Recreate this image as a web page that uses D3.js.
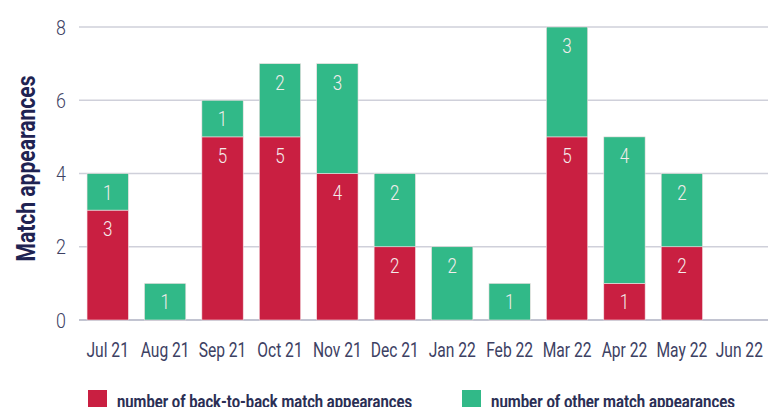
<!DOCTYPE html>
<html>
<head>
<meta charset="utf-8">
<script src="https://cdn.jsdelivr.net/npm/d3@7"></script>
<style>
  html, body { margin: 0; padding: 0; background: #fff; }
  svg { display: block; }
</style>
</head>
<body>
<svg id="chart" width="770" height="407"></svg>
<script>
const months = ["Jul 21","Aug 21","Sep 21","Oct 21","Nov 21","Dec 21","Jan 22","Feb 22","Mar 22","Apr 22","May 22","Jun 22"];
const backToBack = [3,0,5,5,4,2,0,0,5,1,2,0];
const other = [1,1,1,2,3,2,2,1,3,4,2,0];
const yTicks = [0,2,4,6,8];
const seriesNames = ["number of back-to-back match appearances","number of other match appearances"];
const colors = ["#c91f41","#31b988"];

const FONT = "Roboto, 'DejaVu Sans', sans-serif";
const svg = d3.select("#chart");
const margin = {left: 79, right: 2, top: 27, bottom: 87};
const W = 770, H = 407;

// squeeze text horizontally to a narrow face
function condense(sel, k) {
  sel.each(function () {
    const w = this.getComputedTextLength();
    d3.select(this).attr("textLength", w * k).attr("lengthAdjust", "spacingAndGlyphs");
  });
}

const x = d3.scaleBand().domain(months).range([margin.left, W - margin.right]).paddingInner(0.28).paddingOuter(0.14);
const y = d3.scaleLinear().domain([0, 8]).range([H - margin.bottom, margin.top]);

// grid lines
svg.append("g").selectAll("line").data(yTicks).join("line")
  .attr("x1", margin.left).attr("x2", W - margin.right)
  .attr("y1", d => y(d)).attr("y2", d => y(d))
  .attr("stroke", d => d === 0 ? "#aeb0c2" : "#cfd0da").attr("stroke-width", 1.5);

// y tick labels
svg.append("g").selectAll("text").data(yTicks).join("text")
  .attr("x", 66).attr("y", d => y(d) + 7.5)
  .attr("text-anchor", "end").attr("font-family", FONT).attr("font-weight", 300).attr("font-size", 21)
  .attr("fill", "#3d4163").text(d => d)
  .call(condense, 0.85);

// y axis title
svg.append("text")
  .attr("transform", `translate(35,${(y(0) + y(8)) / 2 - 5}) rotate(-90)`)
  .attr("text-anchor", "middle").attr("font-family", FONT).attr("font-weight", "bold")
  .attr("font-size", 25).attr("fill", "#1f2352").text("Match appearances")
  .attr("textLength", 186).attr("lengthAdjust", "spacingAndGlyphs");

// stacked data
const rows = months.map((m, i) => ({month: m, b: backToBack[i], o: other[i]}));
const stack = d3.stack().keys(["b", "o"])(rows);

stack.forEach((layer, li) => {
  const g = svg.append("g");
  const segs = layer.filter(d => d[1] - d[0] > 0);
  g.selectAll("rect").data(segs).join("rect")
    .attr("x", d => x(d.data.month)).attr("width", x.bandwidth())
    .attr("y", d => y(d[1])).attr("height", d => y(d[0]) - y(d[1]))
    .attr("fill", colors[li]).attr("stroke", "#f3dfe3").attr("stroke-width", 0.6);
  g.selectAll("text").data(segs).join("text")
    .attr("x", d => x(d.data.month) + x.bandwidth() / 2)
    .attr("y", d => y(d[1]) + 26)
    .attr("text-anchor", "middle")
    .attr("font-family", FONT).attr("font-weight", 300).attr("font-size", 20).attr("fill", "#f4ecec")
    .text(d => d[1] - d[0])
    .call(condense, 0.85);
});

// x labels
svg.append("g").selectAll("text").data(months).join("text")
  .attr("x", d => x(d) + x.bandwidth() / 2).attr("y", 357)
  .attr("text-anchor", "middle").attr("font-family", FONT).attr("font-size", 20)
  .attr("fill", "#3d4163").text(d => d)
  .call(condense, 0.78);

// legend
const legendX = [88, 462];
const legendW = [295, 244];
const lg = svg.append("g").selectAll("g").data(seriesNames).join("g")
  .attr("transform", (d, i) => `translate(${legendX[i]},390)`);
lg.append("rect").attr("width", 19).attr("height", 19).attr("fill", (d, i) => colors[i]);
lg.append("text").attr("x", 29).attr("y", 18)
  .attr("font-family", FONT).attr("font-weight", "bold").attr("font-size", 18)
  .attr("fill", "#2b2f55").text(d => d)
  .attr("textLength", (d, i) => legendW[i]).attr("lengthAdjust", "spacingAndGlyphs");
</script>
</body>
</html>
